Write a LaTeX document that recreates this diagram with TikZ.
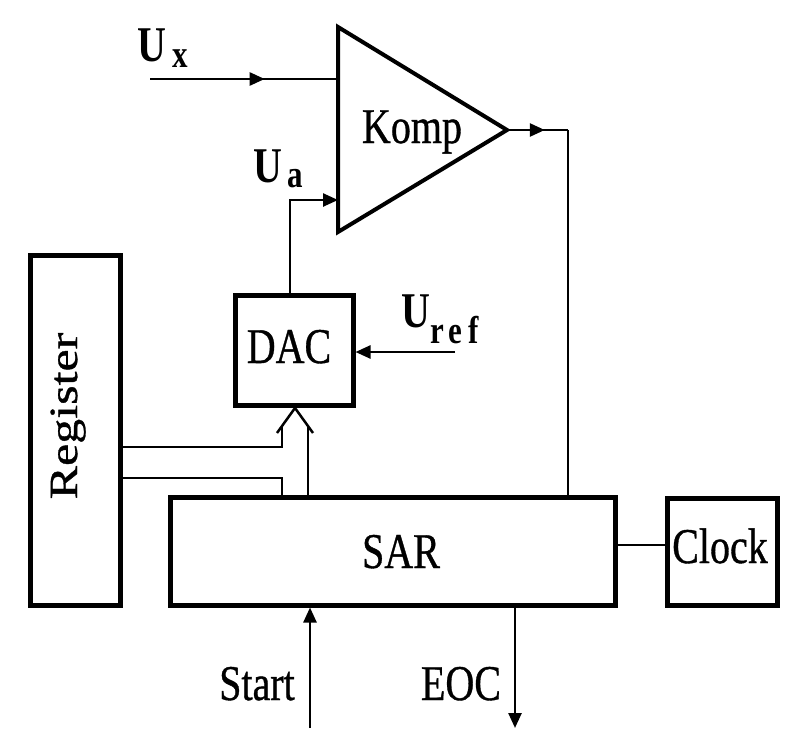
\documentclass[tikz,border=0pt]{standalone}
\usepackage{fontspec}
\setmainfont{Liberation Serif}
\newfontfamily\heavyserif[FakeBold=0.8]{Liberation Serif}
\usetikzlibrary{arrows.meta,decorations.markings,calc}
\newcommand{\stx}[1]{\scalebox{1}[1.25]{#1}}
\newcommand{\sty}[1]{\scalebox{1.25}[1]{#1}}
\begin{document}
\begin{tikzpicture}[x=1pt,y=-1pt,
 box/.style={draw, line width=5pt, inner sep=0pt},
 conn/.style={line width=2.5pt},
 tri/.style={line width=4pt, line join=miter},
 arr/.style={-{Triangle[length=15pt,width=13pt]}},
 midarrow/.style={postaction={decorate},decoration={markings,mark=at position #1 with {\arrow{Triangle[length=15pt,width=13pt]}}}},
 lbl/.style={inner sep=0pt, anchor=base, font=\heavyserif\fontsize{40}{44}\selectfont},
 ulbl/.style={inner sep=0pt, anchor=base west, font=\fontsize{40}{44}\selectfont\bfseries},
 slbl/.style={inner sep=0pt, anchor=base west, font=\fontsize{31}{33}\selectfont\bfseries}]
\useasboundingbox (0,0) rectangle (792,749);
\fill[white] (0,0) rectangle (792,749);

% boxes
\node[box, minimum width=90pt, minimum height=350pt] (reg) at (75,430) {};
\node[box, minimum width=118pt, minimum height=110pt] (dac) at (294,350) {};
\node[box, minimum width=445pt, minimum height=108pt] (sar) at (392.5,551) {};
\node[box, minimum width=110pt, minimum height=107pt] (clk) at (722,551.5) {};

% comparator triangle
\coordinate (ttop) at (338,27);
\coordinate (tbot) at (338,232);
\coordinate (ttip) at (507,130);
\draw[tri] (ttop) -- (tbot) -- (ttip) -- cycle;

% texts
\node[lbl] (kompT) at (412,143) {\stx{Komp}};
\node[lbl] (dacT) at (289,363) {\stx{DAC}};
\node[lbl] (sarT) at (401,568) {\stx{SAR}};
\node[lbl] (clkT) at (720,563) {\stx{Clock}};
\node[lbl] (startT) at (257,700) {\stx{Start}};
\node[lbl] (eocT) at (461,700) {\stx{EOC}};
\node[lbl, rotate=90] (regT) at (77,416) {\sty{Register}};

\node[ulbl] (uxU) at (137,62) {\stx{U}};
\node[slbl] (uxS) at (172,68) {\stx{x}};
\node[ulbl] (uaU) at (253,182) {\stx{U}};
\node[slbl] (uaS) at (287,187) {\stx{a}};
\node[ulbl] (urU) at (401,327) {\stx{U}};
\node[slbl] (urS) at (430,343) {\stx{\addfontfeatures{LetterSpace=18}ref}};

% Ux input
\coordinate (uxs) at (150,79);
\draw[conn, midarrow=0.61] (uxs) -- (uxs -| ttop);

% comparator output to SAR
\coordinate (kc) at (568,130);
\draw[conn, midarrow=0.62] (ttip) -- (kc);
\draw[conn] (kc) -- (kc |- sar.north);

% Ua
\coordinate (uain) at (338,200);
\draw[conn, arr] ($(dac.north)+(-4,0)$) |- (uain);

% Uref
\coordinate (urefs) at (455,352);
\draw[conn, arr] (urefs) -- (urefs -| dac.east);

% bus from register / SAR to DAC (hollow arrow)
\coordinate (busL) at (282,447);
\coordinate (busL2) at (282,478);
\coordinate (busR) at (308,426);
\coordinate (bustip) at (295,408);
\draw[conn] (reg.east |- busL) -- (busL) -- (282,426);
\draw[conn] (reg.east |- busL2) -- (busL2) -- (busL2 |- sar.north);
\draw[conn] (busR |- sar.north) -- (busR);
\draw[conn, line join=miter] (277,433) -- (bustip) -- (313,433);

% SAR - Clock
\coordinate (ck) at (640,545);
\draw[conn] (sar.east |- ck) -- (clk.west |- ck);

% Start and EOC
\coordinate (starts) at (310,728);
\draw[conn, arr] (starts) -- (starts |- sar.south);
\coordinate (eoce) at (515,728);
\draw[conn, arr] (eoce |- sar.south) -- (eoce);
\end{tikzpicture}
\end{document}
